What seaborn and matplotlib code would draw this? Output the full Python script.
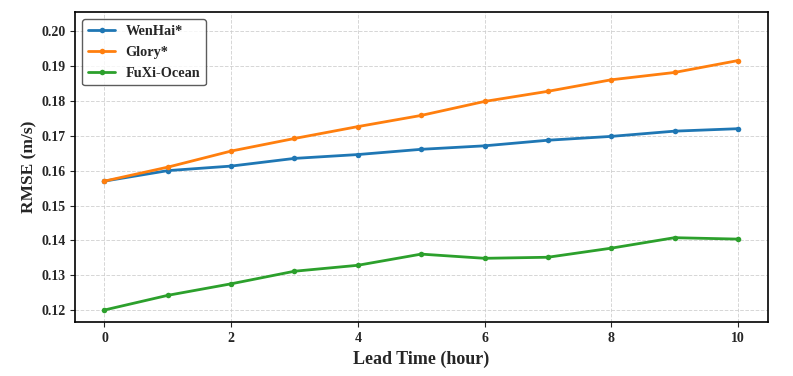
import matplotlib
matplotlib.use("Agg")
import matplotlib.pyplot as plt
import seaborn as sns
import pandas as pd

# values
lead_time = list(range(11))
wenhai = [0.1570, 0.1600, 0.1613, 0.1635, 0.1646, 0.1661, 0.1671, 0.1687, 0.1698, 0.1713, 0.1720]
glory = [0.1570, 0.1610, 0.1656, 0.1692, 0.1726, 0.1758, 0.1798, 0.1827, 0.1860, 0.1881, 0.1915]
fuxi = [0.1201, 0.1243, 0.1276, 0.1312, 0.1329, 0.1361, 0.1349, 0.1352, 0.1378, 0.1408, 0.1404]
models = ["WenHai*", "Glory*", "FuXi-Ocean"]

df = pd.DataFrame({
    "lead": lead_time * 3,
    "rmse": wenhai + glory + fuxi,
    "model": [m for m in models for _ in lead_time],
})

sns.set_style("ticks")
plt.rcParams['font.family'] = ['Liberation Serif', 'DejaVu Serif']
plt.rcParams['font.weight'] = 'bold'

fig, ax = plt.subplots(figsize=(7.93, 3.76), dpi=100)
sns.lineplot(data=df, x="lead", y="rmse", hue="model", hue_order=models,
             palette=["#1f77b4", "#ff7f0e", "#2ca02c"], marker="o",
             markersize=4, markeredgewidth=0, linewidth=2, ax=ax)

ax.set_ylim(0.1166, 0.2054)
ax.set_xlim(-0.46, 10.47)
ax.set_xticks([0, 2, 4, 6, 8, 10])
ax.set_yticks([0.12, 0.13, 0.14, 0.15, 0.16, 0.17, 0.18, 0.19, 0.20])
ax.set_yticklabels([f"{v:.2f}" for v in ax.get_yticks()])
ax.grid(True, linestyle="--", color="#cccccc", linewidth=0.7, alpha=0.8)
ax.set_xlabel("Lead Time (hour)", fontsize=13, fontweight="bold")
ax.set_ylabel("RMSE (m/s)", fontsize=12.5, fontweight="bold", labelpad=3)
ax.tick_params(labelsize=10)
for lab in ax.get_xticklabels() + ax.get_yticklabels():
    lab.set_fontweight("bold")
for sp in ax.spines.values():
    sp.set_linewidth(1.2)
    sp.set_color("black")

leg = ax.legend(loc="upper left", prop={"weight": "bold", "size": 10.3},
                edgecolor="#333333", fancybox=True, handlelength=1.9,
                handletextpad=0.7, labelspacing=0.55)
leg.get_frame().set_linewidth(1.0)

fig.subplots_adjust(left=0.095, right=0.968, top=0.968, bottom=0.143)
fig.savefig("out.png", dpi=100)
